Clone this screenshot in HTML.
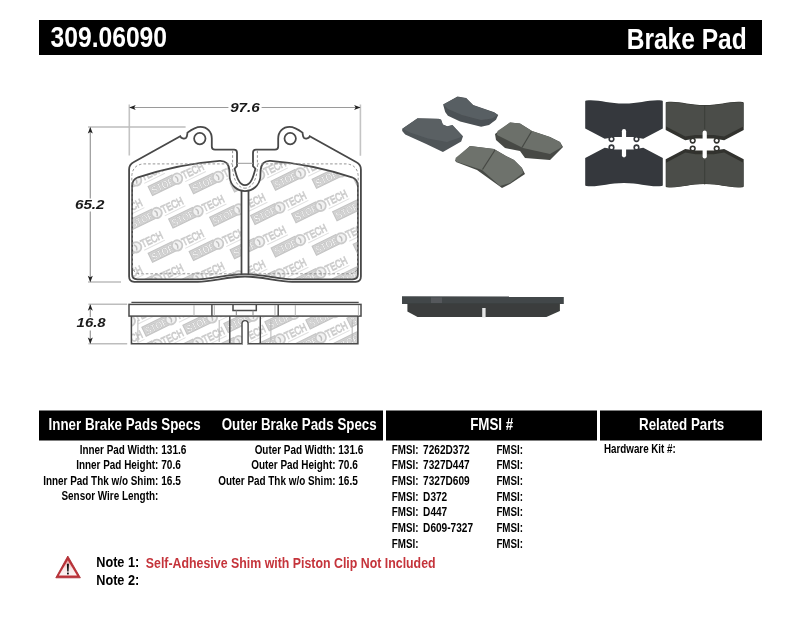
<!DOCTYPE html>
<html><head><meta charset="utf-8"><style>
html,body{margin:0;padding:0;background:#fff;width:800px;height:619px;overflow:hidden}
svg{display:block;font-family:"Liberation Sans", sans-serif;will-change:transform}
</style></head><body>
<svg width="800" height="619" viewBox="0 0 800 619">
<rect width="800" height="619" fill="#fff"/>
<rect x="39" y="20" width="723" height="35" fill="#000"/>
<g transform="translate(50.5,47.4) scale(0.822,1)"><text x="0" y="0" font-size="30" text-anchor="start" fill="#fff" font-weight="bold" font-style="normal">309.06090</text></g>
<g transform="translate(626.7,48.9) scale(0.818,1)"><text x="0" y="0" font-size="30" text-anchor="start" fill="#fff" font-weight="bold" font-style="normal">Brake Pad</text></g>
<rect x="39" y="410.5" width="344" height="30" fill="#000"/>
<rect x="386" y="410.5" width="211" height="30" fill="#000"/>
<rect x="600" y="410.5" width="162" height="30" fill="#000"/>
<g transform="translate(48.6,429.8) scale(0.835,1)"><text x="0" y="0" font-size="16" text-anchor="start" fill="#fff" font-weight="bold" font-style="normal">Inner Brake Pads Specs</text></g>
<g transform="translate(221.7,429.8) scale(0.835,1)"><text x="0" y="0" font-size="16" text-anchor="start" fill="#fff" font-weight="bold" font-style="normal">Outer Brake Pads Specs</text></g>
<g transform="translate(470.2,429.6) scale(0.835,1)"><text x="0" y="0" font-size="16" text-anchor="start" fill="#fff" font-weight="bold" font-style="normal">FMSI #</text></g>
<g transform="translate(639.0,429.5) scale(0.835,1)"><text x="0" y="0" font-size="16" text-anchor="start" fill="#fff" font-weight="bold" font-style="normal">Related Parts</text></g>
<g transform="translate(158.3,453.5) scale(0.8,1)"><text x="0" y="0" font-size="12.4" text-anchor="end" fill="#000" font-weight="bold" font-style="normal">Inner Pad Width:</text></g>
<g transform="translate(161.2,453.5) scale(0.815,1)"><text x="0" y="0" font-size="12.4" text-anchor="start" fill="#000" font-weight="bold" font-style="normal">131.6</text></g>
<g transform="translate(158.3,469.0) scale(0.8,1)"><text x="0" y="0" font-size="12.4" text-anchor="end" fill="#000" font-weight="bold" font-style="normal">Inner Pad Height:</text></g>
<g transform="translate(161.2,469.0) scale(0.815,1)"><text x="0" y="0" font-size="12.4" text-anchor="start" fill="#000" font-weight="bold" font-style="normal">70.6</text></g>
<g transform="translate(158.3,484.7) scale(0.8,1)"><text x="0" y="0" font-size="12.4" text-anchor="end" fill="#000" font-weight="bold" font-style="normal">Inner Pad Thk w/o Shim:</text></g>
<g transform="translate(161.2,484.7) scale(0.815,1)"><text x="0" y="0" font-size="12.4" text-anchor="start" fill="#000" font-weight="bold" font-style="normal">16.5</text></g>
<g transform="translate(158.3,500.4) scale(0.8,1)"><text x="0" y="0" font-size="12.4" text-anchor="end" fill="#000" font-weight="bold" font-style="normal">Sensor Wire Length:</text></g>
<g transform="translate(335.5,453.5) scale(0.8,1)"><text x="0" y="0" font-size="12.4" text-anchor="end" fill="#000" font-weight="bold" font-style="normal">Outer Pad Width:</text></g>
<g transform="translate(338.2,453.5) scale(0.815,1)"><text x="0" y="0" font-size="12.4" text-anchor="start" fill="#000" font-weight="bold" font-style="normal">131.6</text></g>
<g transform="translate(335.5,469.0) scale(0.8,1)"><text x="0" y="0" font-size="12.4" text-anchor="end" fill="#000" font-weight="bold" font-style="normal">Outer Pad Height:</text></g>
<g transform="translate(338.2,469.0) scale(0.815,1)"><text x="0" y="0" font-size="12.4" text-anchor="start" fill="#000" font-weight="bold" font-style="normal">70.6</text></g>
<g transform="translate(335.5,484.7) scale(0.8,1)"><text x="0" y="0" font-size="12.4" text-anchor="end" fill="#000" font-weight="bold" font-style="normal">Outer Pad Thk w/o Shim:</text></g>
<g transform="translate(338.2,484.7) scale(0.815,1)"><text x="0" y="0" font-size="12.4" text-anchor="start" fill="#000" font-weight="bold" font-style="normal">16.5</text></g>
<g transform="translate(391.8,453.5) scale(0.79,1)"><text x="0" y="0" font-size="12.4" text-anchor="start" fill="#000" font-weight="bold" font-style="normal">FMSI:</text></g>
<g transform="translate(423.1,453.5) scale(0.815,1)"><text x="0" y="0" font-size="12.4" text-anchor="start" fill="#000" font-weight="bold" font-style="normal">7262D372</text></g>
<g transform="translate(496.4,453.5) scale(0.79,1)"><text x="0" y="0" font-size="12.4" text-anchor="start" fill="#000" font-weight="bold" font-style="normal">FMSI:</text></g>
<g transform="translate(391.8,469.2) scale(0.79,1)"><text x="0" y="0" font-size="12.4" text-anchor="start" fill="#000" font-weight="bold" font-style="normal">FMSI:</text></g>
<g transform="translate(423.1,469.2) scale(0.815,1)"><text x="0" y="0" font-size="12.4" text-anchor="start" fill="#000" font-weight="bold" font-style="normal">7327D447</text></g>
<g transform="translate(496.4,469.2) scale(0.79,1)"><text x="0" y="0" font-size="12.4" text-anchor="start" fill="#000" font-weight="bold" font-style="normal">FMSI:</text></g>
<g transform="translate(391.8,484.9) scale(0.79,1)"><text x="0" y="0" font-size="12.4" text-anchor="start" fill="#000" font-weight="bold" font-style="normal">FMSI:</text></g>
<g transform="translate(423.1,484.9) scale(0.815,1)"><text x="0" y="0" font-size="12.4" text-anchor="start" fill="#000" font-weight="bold" font-style="normal">7327D609</text></g>
<g transform="translate(496.4,484.9) scale(0.79,1)"><text x="0" y="0" font-size="12.4" text-anchor="start" fill="#000" font-weight="bold" font-style="normal">FMSI:</text></g>
<g transform="translate(391.8,500.6) scale(0.79,1)"><text x="0" y="0" font-size="12.4" text-anchor="start" fill="#000" font-weight="bold" font-style="normal">FMSI:</text></g>
<g transform="translate(423.1,500.6) scale(0.815,1)"><text x="0" y="0" font-size="12.4" text-anchor="start" fill="#000" font-weight="bold" font-style="normal">D372</text></g>
<g transform="translate(496.4,500.6) scale(0.79,1)"><text x="0" y="0" font-size="12.4" text-anchor="start" fill="#000" font-weight="bold" font-style="normal">FMSI:</text></g>
<g transform="translate(391.8,516.3) scale(0.79,1)"><text x="0" y="0" font-size="12.4" text-anchor="start" fill="#000" font-weight="bold" font-style="normal">FMSI:</text></g>
<g transform="translate(423.1,516.3) scale(0.815,1)"><text x="0" y="0" font-size="12.4" text-anchor="start" fill="#000" font-weight="bold" font-style="normal">D447</text></g>
<g transform="translate(496.4,516.3) scale(0.79,1)"><text x="0" y="0" font-size="12.4" text-anchor="start" fill="#000" font-weight="bold" font-style="normal">FMSI:</text></g>
<g transform="translate(391.8,532.0) scale(0.79,1)"><text x="0" y="0" font-size="12.4" text-anchor="start" fill="#000" font-weight="bold" font-style="normal">FMSI:</text></g>
<g transform="translate(423.1,532.0) scale(0.815,1)"><text x="0" y="0" font-size="12.4" text-anchor="start" fill="#000" font-weight="bold" font-style="normal">D609-7327</text></g>
<g transform="translate(496.4,532.0) scale(0.79,1)"><text x="0" y="0" font-size="12.4" text-anchor="start" fill="#000" font-weight="bold" font-style="normal">FMSI:</text></g>
<g transform="translate(391.8,547.7) scale(0.79,1)"><text x="0" y="0" font-size="12.4" text-anchor="start" fill="#000" font-weight="bold" font-style="normal">FMSI:</text></g>
<g transform="translate(496.4,547.7) scale(0.79,1)"><text x="0" y="0" font-size="12.4" text-anchor="start" fill="#000" font-weight="bold" font-style="normal">FMSI:</text></g>
<g transform="translate(604.0,453.4) scale(0.79,1)"><text x="0" y="0" font-size="12.4" text-anchor="start" fill="#000" font-weight="bold" font-style="normal">Hardware Kit #:</text></g>
<g transform="translate(96.2,566.6) scale(0.89,1)"><text x="0" y="0" font-size="14.3" text-anchor="start" fill="#000" font-weight="bold" font-style="normal">Note 1:</text></g>
<g transform="translate(96.2,585.1) scale(0.89,1)"><text x="0" y="0" font-size="14.3" text-anchor="start" fill="#000" font-weight="bold" font-style="normal">Note 2:</text></g>
<g transform="translate(145.8,567.8) scale(0.865,1)"><text x="0" y="0" font-size="14.3" text-anchor="start" fill="#c5343b" font-weight="bold" font-style="normal">Self-Adhesive Shim with Piston Clip Not Included</text></g>
<defs><linearGradient id="tri" x1="0" y1="0" x2="0" y2="1"><stop offset="0" stop-color="#eaa0a0"/><stop offset="0.55" stop-color="#f8e8e8"/><stop offset="1" stop-color="#fbf3f3"/></linearGradient></defs><g><path d="M67.8 556.0 L80.4 577.8 L55.8 577.8 Z" fill="#bd3238" stroke="#a8282e" stroke-width="0.8" stroke-linejoin="round"/><path d="M67.8 560.2 L77.0 575.6 L58.9 575.6 Z" fill="url(#tri)"/><path d="M66.9 563.8 L68.9 563.8 L68.6 571.6 L67.2 571.6 Z" fill="#111"/><rect x="67.0" y="572.6" width="1.8" height="1.8" fill="#111"/></g>
<defs><filter id="blur1" x="-10%" y="-10%" width="120%" height="120%"><feGaussianBlur stdDeviation="0.45"/></filter></defs>
<g filter="url(#blur1)">
<path d="M402.2 128.8 L417.5 118.3 L438.5 118.7 L441.1 119.6 L442.9 124.4 L447.2 126.2 L452.5 124.9 L463.0 136.2 L461.2 141.5 L442.9 152.0 L426.2 144.1 L405.2 134.5 L402.2 131.0 Z" fill="#4f5458" />
<path d="M402.6 128.8 L417.5 118.6 L438.3 119.0 L441.0 120.0 L442.7 124.6 L447.2 126.5 L452.3 125.3 L462.5 136.4 L447.0 142.0 L428.0 138.5 L410.0 132.5 Z" fill="#5a6064" />
<path d="M443.1 104.4 L457.5 96.6 L466.2 97.9 L473.2 104.9 L494.2 112.3 L498.2 114.9 L496.0 119.7 L489.0 125.0 L481.1 126.7 L460.1 121.5 L447.9 115.8 L445.2 111.9 Z" fill="#4c5154" />
<path d="M443.3 104.4 L457.5 96.9 L466.0 98.2 L473.0 105.2 L494.0 112.6 L497.8 115.0 L492.0 118.5 L481.0 120.0 L462.0 115.0 L448.0 109.0 Z" fill="#595f63" />
<path d="M495.0 134.0 L510.0 122.5 L520.0 123.5 L532.0 131.0 L550.0 137.0 L560.0 142.0 L563.0 147.0 L550.0 160.0 L525.0 158.0 L520.0 151.0 L505.0 148.0 L496.0 140.0 Z" fill="#464945" />
<path d="M497.5 131.0 L510.0 122.5 L520.0 123.5 L532.0 131.0 L550.0 137.0 L560.0 142.0 L562.0 147.0 L550.0 154.0 L523.0 148.0 L497.0 135.0 Z" fill="#6c706a" />
<path d="M531.5 131.5 L522 147.5" stroke="#454843" stroke-width="1.2"/>
<path d="M455.0 160.0 L470.0 146.0 L494.0 149.0 L506.0 156.0 L514.0 160.0 L522.0 168.0 L525.0 174.0 L510.0 184.0 L502.0 188.0 L477.0 170.0 L456.0 162.0 Z" fill="#464945" />
<path d="M455.5 158.0 L470.0 146.0 L494.0 149.0 L506.0 156.0 L514.0 160.0 L522.0 168.0 L523.0 173.0 L510.0 183.0 L500.0 186.0 L482.0 170.0 L456.0 161.5 Z" fill="#6e726c" />
<path d="M495 150 L482.5 169.5" stroke="#454843" stroke-width="1.2"/>
<path d="M585.20 101.30 Q585.20 100.50 586.40 100.50 C599.20 99.40 608.00 103.60 624.00 103.60 C640.00 103.60 648.80 99.40 661.60 100.50 Q662.80 100.50 662.80 101.30 L662.80 128.50 L643.30 138.70 L633.00 137.10 L615.00 137.10 L604.70 138.70 L585.20 128.50 Z" fill="#35393d"/>
<circle cx="611.50" cy="139.10" r="3.1" fill="#35393d"/>
<circle cx="611.50" cy="139.10" r="1.5" fill="#fff"/>
<circle cx="636.50" cy="139.10" r="3.1" fill="#35393d"/>
<circle cx="636.50" cy="139.10" r="1.5" fill="#fff"/>
<path d="M585.20 185.20 Q585.20 186.00 586.40 186.00 C599.20 187.10 608.00 182.90 624.00 182.90 C640.00 182.90 648.80 187.10 661.60 186.00 Q662.80 186.00 662.80 185.20 L662.80 158.00 L643.30 147.80 L633.00 149.40 L615.00 149.40 L604.70 147.80 L585.20 158.00 Z" fill="#35393d"/>
<circle cx="611.50" cy="147.40" r="3.1" fill="#35393d"/>
<circle cx="611.50" cy="147.40" r="1.5" fill="#fff"/>
<circle cx="636.50" cy="147.40" r="3.1" fill="#35393d"/>
<circle cx="636.50" cy="147.40" r="1.5" fill="#fff"/>
<rect x="621.90" y="129.10" width="4.2" height="28.30" rx="2.1" fill="#fff"/>
<path d="M665.70 102.80 Q665.70 102.00 666.90 102.00 C679.70 100.90 688.70 105.10 704.70 105.10 C720.70 105.10 729.70 100.90 742.50 102.00 Q743.70 102.00 743.70 102.80 L743.70 130.00 L724.20 140.20 L713.70 138.60 L695.70 138.60 L685.20 140.20 L665.70 130.00 Z" fill="#30322e"/>
<path d="M666.10 103.20 Q666.10 102.40 667.30 102.40 C680.10 101.30 688.70 105.50 704.70 105.50 C720.70 105.50 729.30 101.30 742.10 102.40 Q743.30 102.40 743.30 103.20 L743.30 126.40 L724.20 136.60 L713.70 135.00 L695.70 135.00 L685.20 136.60 L666.10 126.40 Z" fill="#4b4d48"/>
<circle cx="692.70" cy="140.60" r="3.1" fill="#30322e"/>
<circle cx="692.70" cy="140.60" r="1.5" fill="#fff"/>
<circle cx="716.70" cy="140.60" r="3.1" fill="#30322e"/>
<circle cx="716.70" cy="140.60" r="1.5" fill="#fff"/>
<path d="M665.70 186.40 Q665.70 187.20 666.90 187.20 C679.70 188.30 688.70 184.10 704.70 184.10 C720.70 184.10 729.70 188.30 742.50 187.20 Q743.70 187.20 743.70 186.40 L743.70 159.20 L724.20 149.00 L713.70 150.60 L695.70 150.60 L685.20 149.00 L665.70 159.20 Z" fill="#30322e"/>
<path d="M666.10 186.00 Q666.10 186.80 667.30 186.80 C680.10 187.90 688.70 183.70 704.70 183.70 C720.70 183.70 729.30 187.90 742.10 186.80 Q743.30 186.80 743.30 186.00 L743.30 162.80 L724.20 152.60 L713.70 154.20 L695.70 154.20 L685.20 152.60 L666.10 162.80 Z" fill="#4b4d48"/>
<circle cx="692.70" cy="148.60" r="3.1" fill="#30322e"/>
<circle cx="692.70" cy="148.60" r="1.5" fill="#fff"/>
<circle cx="716.70" cy="148.60" r="3.1" fill="#30322e"/>
<circle cx="716.70" cy="148.60" r="1.5" fill="#fff"/>
<rect x="702.60" y="130.60" width="4.2" height="28.00" rx="2.1" fill="#fff"/>
<path d="M704.7 105 V129 M704.7 160 V184.5" stroke="#3a3c37" stroke-width="0.9"/>
<path d="M402.0 296.3 L563.8 296.5 L563.8 303.9 L402.0 303.9 Z" fill="#42474a" />
<path d="M407.4 303.2 L559.9 303.2 L559.9 310.9 L546.4 317.0 L417.5 317.0 L407.4 311.4 Z" fill="#3a3e3c" />
<rect x="482.2" y="308" width="3.4" height="9.5" fill="#e4e5e5"/>
<rect x="431" y="297.4" width="11" height="5.6" fill="#55595c"/>
</g>
<defs><g id="logo" transform="rotate(-26)"><rect x="-30" y="-5" width="26.5" height="10" fill="#d4d4d4" stroke="#c4c4c4" stroke-width="1.1"/><text x="-28.5" y="4.2" font-size="10.5" font-weight="bold" fill="#fdfdfd" stroke="#bdbdbd" stroke-width="0.55" textLength="24" lengthAdjust="spacingAndGlyphs">STOP</text><circle cx="-0.5" cy="0.6" r="5.2" fill="#f2f2f2" stroke="#cbcbcb" stroke-width="1.8"/><path d="M-1.5 -2.4 Q1.3 0.6 -1.5 3.7" stroke="#c0c0c0" stroke-width="1.5" fill="none"/><text x="5.5" y="4.2" font-size="11" font-weight="normal" fill="#fafafa" stroke="#cccccc" stroke-width="0.9" textLength="23" lengthAdjust="spacingAndGlyphs">TECH</text><rect x="5.5" y="6.3" width="23" height="1" fill="#e0e0e0"/></g><filter id="wmblur"><feGaussianBlur stdDeviation="0.3"/></filter><clipPath id="cpf"><path d="M245.00 274.20 C 228.00 274.20 212.00 279.30 198.00 279.30 L 137.20 279.30 Q 132.10 279.30 132.10 274.30 L 132.10 186.00 Q 132.10 179.50 138.00 177.30 Q 178.00 164.00 219.50 160.80 C 225.00 160.50 228.80 163.50 229.40 170.00 L 229.70 177.50 C 230.80 185.50 237.00 191.00 245.00 191.00 C 253.00 191.00 259.20 185.50 260.30 177.50 L 260.60 170.00 C 261.20 163.50 265.00 160.50 270.50 160.80 Q 312.00 164.00 352.00 177.30 Q 357.90 179.50 357.90 186.00 L 357.90 274.30 Q 357.90 279.30 352.80 279.30 L 292.00 279.30 C 278.00 279.30 262.00 274.20 245.00 274.20"/></clipPath><clipPath id="cps"><rect x="132" y="316.5" width="226" height="27"/></clipPath></defs>
<g clip-path="url(#cpf)"><g filter="url(#wmblur)"><use href="#logo" x="74.80" y="149.00"/><use href="#logo" x="115.80" y="147.20"/><use href="#logo" x="156.80" y="145.40"/><use href="#logo" x="197.80" y="143.60"/><use href="#logo" x="238.80" y="141.80"/><use href="#logo" x="279.80" y="140.00"/><use href="#logo" x="320.80" y="138.20"/><use href="#logo" x="361.80" y="136.40"/><use href="#logo" x="402.80" y="134.60"/><use href="#logo" x="443.80" y="132.80"/><use href="#logo" x="54.30" y="183.30"/><use href="#logo" x="95.30" y="181.50"/><use href="#logo" x="136.30" y="179.70"/><use href="#logo" x="177.30" y="177.90"/><use href="#logo" x="218.30" y="176.10"/><use href="#logo" x="259.30" y="174.30"/><use href="#logo" x="300.30" y="172.50"/><use href="#logo" x="341.30" y="170.70"/><use href="#logo" x="382.30" y="168.90"/><use href="#logo" x="423.30" y="167.10"/><use href="#logo" x="33.80" y="217.60"/><use href="#logo" x="74.80" y="215.80"/><use href="#logo" x="115.80" y="214.00"/><use href="#logo" x="156.80" y="212.20"/><use href="#logo" x="197.80" y="210.40"/><use href="#logo" x="238.80" y="208.60"/><use href="#logo" x="279.80" y="206.80"/><use href="#logo" x="320.80" y="205.00"/><use href="#logo" x="361.80" y="203.20"/><use href="#logo" x="402.80" y="201.40"/><use href="#logo" x="13.30" y="251.90"/><use href="#logo" x="54.30" y="250.10"/><use href="#logo" x="95.30" y="248.30"/><use href="#logo" x="136.30" y="246.50"/><use href="#logo" x="177.30" y="244.70"/><use href="#logo" x="218.30" y="242.90"/><use href="#logo" x="259.30" y="241.10"/><use href="#logo" x="300.30" y="239.30"/><use href="#logo" x="341.30" y="237.50"/><use href="#logo" x="382.30" y="235.70"/><use href="#logo" x="-7.20" y="286.20"/><use href="#logo" x="33.80" y="284.40"/><use href="#logo" x="74.80" y="282.60"/><use href="#logo" x="115.80" y="280.80"/><use href="#logo" x="156.80" y="279.00"/><use href="#logo" x="197.80" y="277.20"/><use href="#logo" x="238.80" y="275.40"/><use href="#logo" x="279.80" y="273.60"/><use href="#logo" x="320.80" y="271.80"/><use href="#logo" x="361.80" y="270.00"/></g></g>
<rect x="241.5" y="190" width="7" height="84" fill="#fff"/>
<path d="M245.00 274.20 C 228.00 274.20 212.00 279.30 198.00 279.30 L 137.20 279.30 Q 132.10 279.30 132.10 274.30 L 132.10 186.00 Q 132.10 179.50 138.00 177.30 Q 178.00 164.00 219.50 160.80 C 225.00 160.50 228.80 163.50 229.40 170.00 L 229.70 177.50 C 230.80 185.50 237.00 191.00 245.00 191.00 C 253.00 191.00 259.20 185.50 260.30 177.50 L 260.60 170.00 C 261.20 163.50 265.00 160.50 270.50 160.80 Q 312.00 164.00 352.00 177.30 Q 357.90 179.50 357.90 186.00 L 357.90 274.30 Q 357.90 279.30 352.80 279.30 L 292.00 279.30 C 278.00 279.30 262.00 274.20 245.00 274.20" fill="none" stroke="#484848" stroke-width="1.75"/>
<path d="M245.00 276.50 C 228.00 276.50 212.00 281.80 198.00 281.80 L 134.20 281.80 Q 129.10 281.80 129.10 276.60 L 129.10 169.50 Q 129.10 164.60 133.50 162.30 L 180.30 136.30 C 181.30 138.60 184.30 139.20 185.90 138.00 C 187.40 136.80 187.20 134.50 187.50 132.60 C 192.00 129.20 196.00 126.80 200.50 126.80 C 207.00 126.80 211.80 131.50 211.80 138.50 L 211.80 146.60 Q 211.80 149.70 215.00 149.70 L 234.00 149.70 Q 237.00 149.70 237.00 152.70 L 237.00 166.20 L 234.60 168.70 C 236.60 176.50 239.00 185.20 245.00 185.20 C 251.00 185.20 253.40 176.50 255.40 168.70 L 253.00 166.20 L 253.00 152.70 Q 253.00 149.70 256.00 149.70 L 275.00 149.70 Q 278.20 149.70 278.20 146.60 L 278.20 138.50 C 278.20 131.50 283.00 126.80 289.50 126.80 C 294.00 126.80 298.00 129.20 302.50 132.60 C 302.80 134.50 302.60 136.80 304.10 138.00 C 305.70 139.20 308.70 138.60 309.70 136.30 L 356.50 162.30 Q 360.90 164.60 360.90 169.50 L 360.90 276.60 Q 360.90 281.80 355.80 281.80 L 292.00 281.80 C 278.00 281.80 262.00 276.50 245.00 276.50" fill="none" stroke="#484848" stroke-width="1.8"/>
<path d="M245.00 273.80 L 141.00 273.80 Q 133.00 273.80 132.40 266.00 L 131.80 176.00 Q 132.50 165.00 143.30 163.90 L 232.60 163.90 M245.00 273.80 L 349.00 273.80 Q 357.00 273.80 357.60 266.00 L 358.20 176.00 Q 357.50 165.00 346.70 163.90 L 257.40 163.90 M232.60 150.60 L 232.60 168.50 C 233.60 180.50 238.20 188.20 245.00 188.20 M257.40 150.60 L 257.40 168.50 C 256.40 180.50 251.80 188.20 245.00 188.20" fill="none" stroke="#8a8a8a" stroke-width="0.9" stroke-dasharray="2.6 2"/>
<line x1="237" y1="163.3" x2="253" y2="163.3" stroke="#999" stroke-width="1"/>
<path d="M241.5 190.5 V274.4 M248.5 190.5 V274.4" stroke="#484848" stroke-width="1.75" fill="none"/>
<circle cx="199.8" cy="138.6" r="5.7" fill="none" stroke="#484848" stroke-width="1.75"/>
<circle cx="290.2" cy="138.6" r="5.7" fill="none" stroke="#484848" stroke-width="1.75"/>
<path d="M129.5 107.5 H228.4 M261.6 107.5 H360.5" stroke="#9a9a9a" stroke-width="1.2"/>
<path d="M129.3 104.5 V155.6 M360.4 104.5 V155.8" stroke="#c4c4c4" stroke-width="1.6"/>
<path d="M129.20 107.40 L135.70 104.90 L134.10 107.40 L135.70 109.90 Z" fill="#222"/>
<path d="M360.60 107.40 L354.10 104.90 L355.70 107.40 L354.10 109.90 Z" fill="#222"/>
<path d="M90.3 127.5 V198.5 M90.3 211.5 V281.5" stroke="#9a9a9a" stroke-width="1.2"/>
<path d="M88 127 H185.6 M88 282 H121" stroke="#bdbdbd" stroke-width="1.5"/>
<path d="M90.30 127.00 L87.80 133.50 L90.30 131.90 L92.80 133.50 Z" fill="#222"/>
<path d="M90.30 282.20 L87.80 275.70 L90.30 277.30 L92.80 275.70 Z" fill="#222"/>
<path d="M90.3 304.5 V317 M90.3 330.5 V343.5" stroke="#9a9a9a" stroke-width="1.2"/>
<path d="M88.4 304.3 H127.2 M88.4 343.8 H127.2" stroke="#bdbdbd" stroke-width="1.5"/>
<path d="M90.30 304.20 L87.80 310.70 L90.30 309.10 L92.80 310.70 Z" fill="#222"/>
<path d="M90.30 344.00 L87.80 337.50 L90.30 339.10 L92.80 337.50 Z" fill="#222"/>
<text x="230.2" y="112.2" font-size="12.3" font-weight="bold" font-style="italic" fill="#1a1a1a" textLength="29.5" lengthAdjust="spacingAndGlyphs">97.6</text>
<text x="75.0" y="208.9" font-size="12.3" font-weight="bold" font-style="italic" fill="#1a1a1a" textLength="29.5" lengthAdjust="spacingAndGlyphs">65.2</text>
<text x="76.6" y="327.0" font-size="12.3" font-weight="bold" font-style="italic" fill="#1a1a1a" textLength="29" lengthAdjust="spacingAndGlyphs">16.8</text>
<g clip-path="url(#cps)"><g filter="url(#wmblur)"><use href="#logo" x="130.00" y="320.30"/><use href="#logo" x="171.00" y="318.50"/><use href="#logo" x="212.00" y="316.70"/><use href="#logo" x="253.00" y="314.90"/><use href="#logo" x="294.00" y="313.10"/><use href="#logo" x="335.00" y="311.30"/><use href="#logo" x="376.00" y="309.50"/><use href="#logo" x="116.00" y="345.80"/><use href="#logo" x="157.00" y="344.00"/><use href="#logo" x="198.00" y="342.20"/><use href="#logo" x="239.00" y="340.40"/><use href="#logo" x="280.00" y="338.60"/><use href="#logo" x="321.00" y="336.80"/><use href="#logo" x="362.00" y="335.00"/></g></g>
<path d="M131.4 302.3 H358.7" stroke="#4a4a4a" stroke-width="1.2"/>
<rect x="129" y="304.4" width="232" height="11.7" fill="none" stroke="#4a4a4a" stroke-width="1.5"/>
<path d="M131.4 316.1 V343.8 H357.9 V316.1" fill="none" stroke="#4a4a4a" stroke-width="1.5"/>
<path d="M211.9 304.4 V316 M278.2 304.4 V316 M229.8 316 V343.8 M260.3 316 V343.8" stroke="#4a4a4a" stroke-width="1.45"/>
<path d="M194 305 V315.5 M214.3 305 V315.5 M275 305 V315.5 M295.3 305 V315.5 M358.4 305 V315.5 M137.9 320 V342 M219.2 320 V342 M270.9 320 V342 M352.2 320 V342" stroke="#b5b5b5" stroke-width="1"/>
<path d="M233 304.4 V310.4 H256.3 V304.4" fill="none" stroke="#4a4a4a" stroke-width="1.5"/>
<path d="M236.3 310.4 V316 M253 310.4 V316" fill="none" stroke="#888" stroke-width="1"/>
<path d="M242 343.8 V324 Q242 320.6 245 320.6 Q248.1 320.6 248.1 324 V343.8" fill="#fff" stroke="#4a4a4a" stroke-width="1.45"/>
<rect x="243" y="343" width="4.2" height="2" fill="#fff"/>
</svg>
</body></html>
